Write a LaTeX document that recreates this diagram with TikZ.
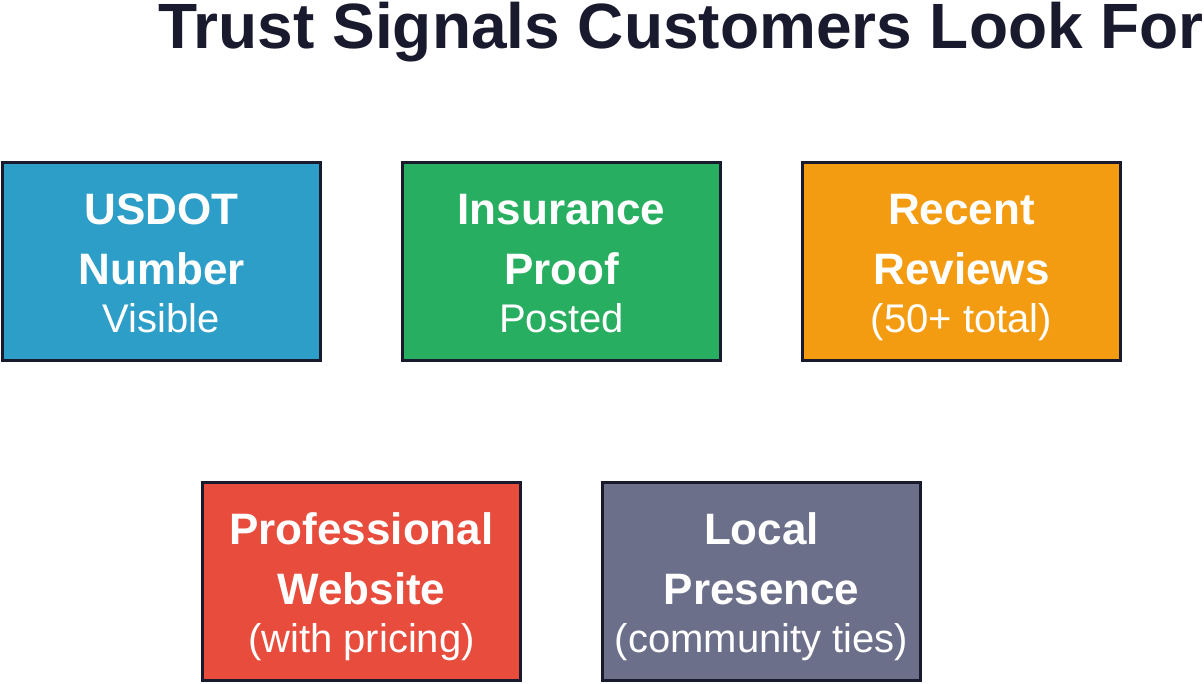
\documentclass[tikz,border=0pt]{standalone}
\usepackage{fontspec}
\setmainfont{Liberation Sans}
\usetikzlibrary{positioning}

\definecolor{titleink}{HTML}{1A1A2E}
\definecolor{edgeink}{HTML}{1A1A2E}
\definecolor{dotblue}{HTML}{2C9EC7}
\definecolor{proofgreen}{HTML}{27AE60}
\definecolor{revieworange}{HTML}{F39C12}
\definecolor{webred}{HTML}{E74C3C}
\definecolor{localslate}{HTML}{6B6F8A}

% zwei fette Zeilen, dann eine leichtere
\newcommand{\signaltext}[3]{\rule{0pt}{43pt}#1\\#2\\[-12pt]\mdseries\fontsize{40}{48}\selectfont\vphantom{(}#3}

\begin{document}
\begin{tikzpicture}[x=1pt, y=-1pt, node distance=400pt,
    signal/.style={draw=edgeink, line width=3pt, minimum width=318pt, minimum height=198pt,
      inner sep=0pt, align=center, text=white, font=\bfseries\fontsize{44}{60}\selectfont}]
    \useasboundingbox (0,0) rectangle (1204,684);

    % Titel
    \node[anchor=base, text=titleink, font=\bfseries\fontsize{64}{64}\selectfont] (title) at (681,49)
        {Trust Signals Customers Look For};

    % obere Reihe
    \node[signal, fill=dotblue] (usdot) at (161.5,261.5) {\signaltext{USDOT}{Number}{Visible}};
    \node[signal, fill=proofgreen] (insurance) [right of=usdot] {\signaltext{Insurance}{Proof}{Posted}};
    \node[signal, fill=revieworange] (reviews) [right of=insurance] {\signaltext{Recent}{Reviews}{(50+ total)}};

    % untere Reihe
    \node[signal, fill=webred] (website) at (361.5,581.5) {\signaltext{Professional}{Website}{(with pricing)}};
    \node[signal, fill=localslate] (presence) [right of=website] {\signaltext{Local}{Presence}{(community ties)}};
\end{tikzpicture}
\end{document}
